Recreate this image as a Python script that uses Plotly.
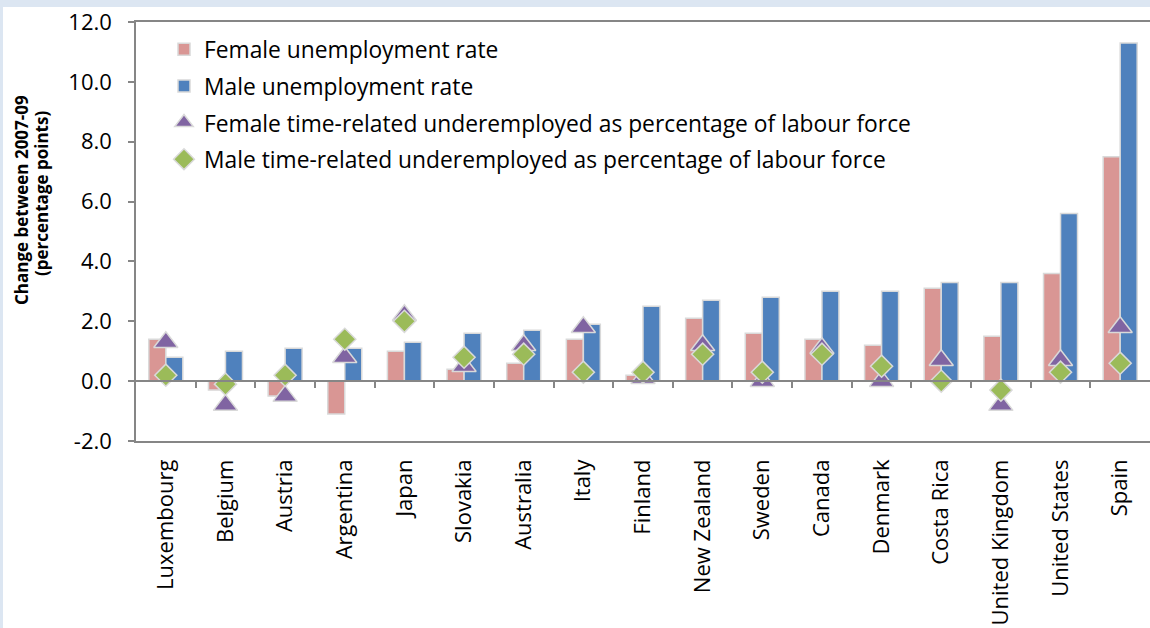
import plotly.graph_objects as go

countries = ["Luxembourg", "Belgium", "Austria", "Argentina", "Japan", "Slovakia",
             "Australia", "Italy", "Finland", "New Zealand", "Sweden", "Canada",
             "Denmark", "Costa Rica", "United Kingdom", "United States", "Spain"]
female_unemp = [1.4, -0.3, -0.5, -1.1, 1.0, 0.4, 0.6, 1.4, 0.2, 2.1, 1.6, 1.4, 1.2, 3.1, 1.5, 3.6, 7.5]
male_unemp = [0.8, 1.0, 1.1, 1.1, 1.3, 1.6, 1.7, 1.9, 2.5, 2.7, 2.8, 3.0, 3.0, 3.3, 3.3, 5.6, 11.3]
female_under = [1.3, -0.8, -0.5, 0.8, 2.2, 0.5, 1.2, 1.8, 0.1, 1.2, 0.0, 1.1, 0.0, 0.7, -0.8, 0.7, 1.8]
male_under = [0.2, -0.1, 0.2, 1.4, 2.0, 0.8, 0.9, 0.3, 0.3, 0.9, 0.3, 0.9, 0.5, 0.0, -0.3, 0.3, 0.6]
y_ticks = [-2, 0, 2, 4, 6, 8, 10, 12]

names = ["Female unemployment rate", "Male unemployment rate",
         "Female time-related underemployed as percentage of labour force",
         "Male time-related underemployed as percentage of labour force"]
y_title = ["Change between 2007-09", "(percentage points)"]

W, H = 1150, 628
L, R, T, B = 136, 0, 22, 187
FONT = "Open Sans"
FS = 22
EDGE = "#d9d9d9"
AXC = "#868686"
FRAME = "#dce6f2"

fig = go.Figure()
fig.add_trace(go.Bar(x=countries, y=female_unemp, name=names[0], legendgroup="a",
                     marker=dict(color="#d99694", line=dict(color=EDGE, width=1.5))))
fig.add_trace(go.Bar(x=countries, y=male_unemp, name=names[1], legendgroup="b",
                     marker=dict(color="#4f81bd", line=dict(color=EDGE, width=1.5))))
fig.add_trace(go.Scatter(x=countries, y=female_under, name=names[2], mode="markers", legendgroup="c",
                         marker=dict(symbol="triangle-up", size=21, color="#8064a2",
                                     line=dict(color=EDGE, width=1.5))))
fig.add_trace(go.Scatter(x=countries, y=male_under, name=names[3], mode="markers", legendgroup="d",
                         marker=dict(symbol="diamond", size=17, color="#9bbb59",
                                     line=dict(color=EDGE, width=1.5))))
# invisible trace carrying the zero-level axis with boundary tick marks
n = len(countries)
fig.add_trace(go.Scatter(x=[-0.5, n - 0.5], y=[0, 0], xaxis="x2", mode="lines",
                         line=dict(width=0), showlegend=False, hoverinfo="skip"))

ymin, ymax = y_ticks[0], y_ticks[-1]
zero_pos = (0 - ymin) / (ymax - ymin)
pw = W - L - R
ph = H - T - B

fig.update_layout(
    width=W, height=H, autosize=False,
    margin=dict(l=L, r=R, t=T, b=B, pad=0, autoexpand=False),
    paper_bgcolor="white",
    plot_bgcolor="white",
    barmode="group", bargap=0.43, bargroupgap=0.0,
    font=dict(family=FONT, size=FS, color="black"),
    showlegend=True,
    legend=dict(x=(164 - L) / pw, y=1 - (28 - T) / ph, xanchor="left", yanchor="top",
                bgcolor="rgba(0,0,0,0)", traceorder="grouped", tracegroupgap=4,
                font=dict(family=FONT, size=22.8)),
    xaxis=dict(type="category", categoryorder="array", categoryarray=countries,
               range=[-0.5, n - 0.5], automargin=False,
               tickangle=-90, ticks="", showline=True, mirror=True, linecolor=AXC, linewidth=1.5,
               showgrid=False, tickfont=dict(family=FONT, size=FS), ticklabelstandoff=8),
    xaxis2=dict(overlaying="x", anchor="free", position=zero_pos, side="bottom",
                range=[-0.5, n - 0.5], tickvals=[i + 0.5 for i in range(n - 1)],
                automargin=False,
                ticks="outside", ticklen=6, tickwidth=1.5, tickcolor=AXC,
                showticklabels=False, showline=True, linecolor=AXC, linewidth=2,
                showgrid=False, zeroline=False),
    yaxis=dict(range=[ymin, ymax], tickvals=y_ticks, ticktext=[f"{v:.1f}" for v in y_ticks],
               automargin=False,
               ticks="outside", ticklen=6, tickwidth=1.5, tickcolor=AXC,
               showline=True, mirror=False, linecolor=AXC, linewidth=1.5,
               showgrid=False, zeroline=False, tickfont=dict(family=FONT, size=FS),
               ticklabelstandoff=12),
    annotations=[
        dict(text=y_title[0], xref="paper", yref="paper", x=(22 - L) / pw, y=1 - (200 - T) / ph,
             textangle=-90, showarrow=False, xanchor="center", yanchor="middle",
             font=dict(family=FONT, size=17, color="black", weight="bold")),
        dict(text=y_title[1], xref="paper", yref="paper", x=(41 - L) / pw, y=1 - (194 - T) / ph,
             textangle=-90, showarrow=False, xanchor="center", yanchor="middle",
             font=dict(family=FONT, size=17, color="black", weight="bold")),
    ],
    shapes=[
        # light-blue frame strips (top and left)
        dict(type="rect", xref="paper", yref="paper", layer="below",
             x0=(0 - L) / pw, x1=(W + 20 - L) / pw, y0=1 + (T - 7) / ph, y1=1 + (T + 5) / ph,
             fillcolor=FRAME, line=dict(width=0)),
        dict(type="rect", xref="paper", yref="paper", layer="below",
             x0=(0 - L - 5) / pw, x1=(3 - L) / pw, y0=-(B + 5) / ph, y1=1 + (T + 5) / ph,
             fillcolor=FRAME, line=dict(width=0)),
    ],
)

fig.write_html("out.html", config={"displayModeBar": False, "responsive": False},
               post_script="document.body.style.margin='0px';"
                           "document.body.style.overflow='hidden';"
                           "document.documentElement.style.overflow='hidden';")
